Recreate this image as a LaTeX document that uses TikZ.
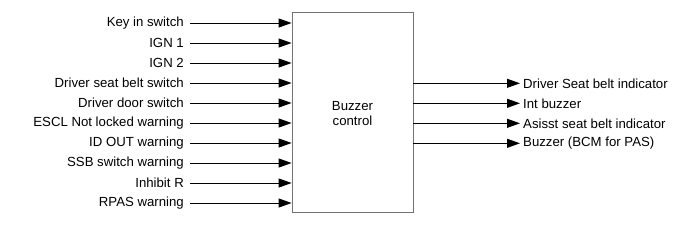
\documentclass[tikz,border=0pt]{standalone}
\usepackage{fontspec}
\setmainfont{Liberation Sans}
\usetikzlibrary{arrows.meta}
\begin{document}
\begin{tikzpicture}[x=1pt,y=-1pt,
  lbl/.style={font=\fontsize{13.2}{15}\selectfont,inner sep=0pt},
  arr/.style={line width=1pt,-{Triangle[length=13pt,width=9pt]}}]
\useasboundingbox (0,0) rectangle (700,226);
\node[draw=black!55,line width=0.8pt,minimum width=121pt,minimum height=200pt,inner sep=0pt] (box) at (352.5,112.5) {};
\node[lbl,align=center] (bt) at (352.5,114) {Buzzer\\control};
\foreach \t [count=\i] in {Key in switch,IGN 1,IGN 2,Driver seat belt switch,Driver door switch,ESCL Not locked warning,ID OUT warning,SSB switch warning,Inhibit R,RPAS warning}{
  \pgfmathsetmacro{\yy}{23+20*(\i-1)}
  \node[lbl,anchor=east] (in\i) at (184,\yy) {\t};
  \coordinate (s\i) at (190,\yy);
  \coordinate (e\i) at (box.west |- s\i);
  \draw[arr] (s\i) -- (e\i);
}
\foreach \t [count=\i] in {Driver Seat belt indicator,Int buzzer,Asisst seat belt indicator,Buzzer (BCM for PAS)}{
  \pgfmathsetmacro{\yy}{83.3+20*(\i-1)}
  \node[lbl,anchor=west] (out\i) at (523,\yy) {\t};
  \coordinate (os\i) at (box.east |- out\i);
  \coordinate (oe\i) at ([xshift=-3pt]out\i.west);
  \draw[arr] (os\i) -- (oe\i);
}
\end{tikzpicture}
\end{document}
